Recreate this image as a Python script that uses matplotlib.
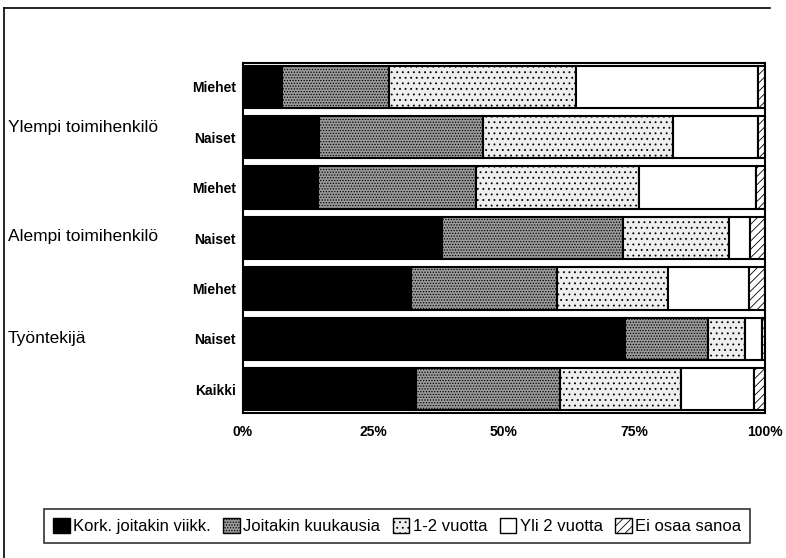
import matplotlib
matplotlib.use("Agg")
import matplotlib.pyplot as plt
from matplotlib.patches import Patch
from matplotlib.lines import Line2D
from matplotlib.transforms import blended_transform_factory
import numpy as np

plt.rcParams['font.family'] = ['Liberation Sans', 'DejaVu Sans']
plt.rcParams['hatch.linewidth'] = 0.6

rows = ["Miehet", "Naiset", "Miehet", "Naiset", "Miehet", "Naiset", "Kaikki"]
groups = ["Ylempi toimihenkilö", "Alempi toimihenkilö", "Työntekijä"]
group_pos = [0.8, 2.98, 5.0]
series = ["Kork. joitakin viikk.", "Joitakin kuukausia", "1-2 vuotta",
          "Yli 2 vuotta", "Ei osaa sanoa"]
weeks = [7.5, 14.6, 14.4, 38.1, 32.2, 73.2, 33.1]
months = [20.5, 31.4, 30.2, 34.7, 28.0, 15.9, 27.6]
years12 = [35.8, 36.4, 31.3, 20.3, 21.2, 7.1, 23.2]
over2 = [34.9, 16.3, 22.4, 4.0, 15.5, 3.2, 14.0]
dontknow = [1.3, 1.3, 1.7, 2.9, 3.1, 0.6, 2.1]
xticks = [0, 25, 50, 75, 100]
xticklabels = ["0%", "25%", "50%", "75%", "100%"]

styles = [
    dict(facecolor="black", hatch=None),
    dict(facecolor="#9a9a9a", hatch="......"),
    dict(facecolor="#eeeeee", hatch="..."),
    dict(facecolor="white", hatch=None),
    dict(facecolor="white", hatch="////"),
]

fig = plt.figure(figsize=(7.86, 5.58), dpi=100)
ax = fig.add_axes([243/786, 1-413/558, 522/786, 350/558])

y = np.arange(len(rows))
left = np.zeros(len(rows))
data = [weeks, months, years12, over2, dontknow]
for vals, st in zip(data, styles):
    vals = np.array(vals)
    ax.barh(y, vals, left=left, height=0.84, facecolor=st["facecolor"],
            hatch=st["hatch"], edgecolor="black", linewidth=1.5)
    left += vals

ax.set_xlim(0, 100)
ax.set_ylim(6.47, -0.47)
ax.set_yticks(y)
ax.set_yticklabels(rows, fontsize=10, fontweight="bold")
ax.set_xticks(xticks)
ax.set_xticklabels(xticklabels, fontsize=10, fontweight="bold")
ax.tick_params(axis="both", length=0)
ax.tick_params(axis="y", pad=5)
ax.tick_params(axis="x", pad=9)
for s in ax.spines.values():
    s.set_linewidth(1.5)

trans = blended_transform_factory(fig.transFigure, ax.transData)
for g, p in zip(groups, group_pos):
    ax.text(8/786, p, g, transform=trans, fontsize=12.5, ha="left", va="center")

# outer frame (left and top edges)
fig.add_artist(Line2D([4/786, 4/786], [0, 1-8/558], transform=fig.transFigure, color="black", lw=1.2))
fig.add_artist(Line2D([4/786, 770/786], [1-8/558, 1-8/558], transform=fig.transFigure, color="black", lw=1.2))

handles = [Patch(facecolor=st["facecolor"], hatch=st["hatch"], edgecolor="black", linewidth=1)
           for st in styles]
leg = fig.legend(handles, series, loc="center", bbox_to_anchor=(397/786, 1-526/558),
                 ncol=5, fontsize=12, frameon=True, fancybox=False, edgecolor="black",
                 handlelength=1.0, handleheight=1.0, handletextpad=0.2, columnspacing=0.75,
                 borderpad=0.55)
leg.get_frame().set_linewidth(1.2)

fig.savefig("out.png", dpi=100)
